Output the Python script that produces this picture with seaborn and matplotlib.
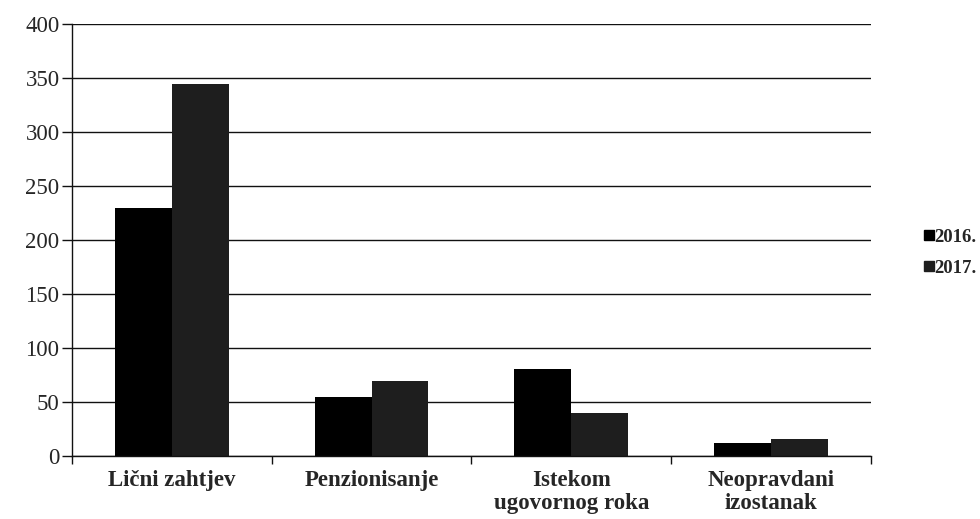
import pandas as pd
import matplotlib
matplotlib.use("Agg")
import matplotlib.pyplot as plt
from matplotlib.lines import Line2D
import seaborn as sns

# podaci sa grafikona
kategorije = ["Lični zahtjev", "Penzionisanje", "Istekom\nugovornog roka", "Neopravdani\nizostanak"]
vrijednosti_2016 = [230, 55, 81, 12]
vrijednosti_2017 = [344, 70, 40, 16]
godine = ["2016.", "2017."]
boje = {"2016.": "#000000", "2017.": "#1e1e1e"}

df = pd.DataFrame({
    "kategorija": kategorije * 2,
    "godina": [godine[0]] * 4 + [godine[1]] * 4,
    "broj": vrijednosti_2016 + vrijednosti_2017,
})

sns.set_style("white")
plt.rcParams["font.family"] = ["Liberation Serif", "DejaVu Serif"]

fig = plt.figure(figsize=(9.8, 5.19), dpi=100)
ax = fig.add_axes([0.0735, 0.121, 0.815, 0.833])

sns.barplot(data=df, x="kategorija", y="broj", hue="godina", palette=boje,
            width=0.57, linewidth=0, saturation=1, ax=ax, legend=False, errorbar=None)

ax.set_ylim(0, 400)
ax.set_xlim(-0.5, 3.5)
ax.set_yticks(range(0, 401, 50))
ax.yaxis.grid(True, color="#111111", linewidth=1.0)
ax.set_axisbelow(True)

for s in ["top", "right"]:
    ax.spines[s].set_visible(False)
for s in ["left", "bottom"]:
    ax.spines[s].set_color("#111111")
    ax.spines[s].set_linewidth(1.0)

ax.tick_params(axis="y", length=7, width=1, color="#111111", labelsize=16.5, pad=2, left=True)
ax.tick_params(axis="x", which="major", length=0, labelsize=16.5, pad=10)
ax.set_xticks([-0.5, 0.5, 1.5, 2.5, 3.5], minor=True)
ax.tick_params(axis="x", which="minor", length=6, width=1, color="#111111", bottom=True)
for t in ax.get_xticklabels():
    t.set_fontweight("bold")
    t.set_linespacing(1.12)
ax.set_xlabel("")
ax.set_ylabel("")

rucke = [Line2D([0], [0], marker="s", linestyle="", markersize=6.5,
                markerfacecolor=boje[g], markeredgecolor=boje[g]) for g in godine]
fig.legend(rucke, godine, loc="center left", bbox_to_anchor=(0.942, 0.513),
           frameon=False, handletextpad=0.0, handlelength=0.6, labelspacing=0.75,
           prop={"weight": "bold", "size": 13.5}, borderaxespad=0, borderpad=0)

fig.savefig("out.png", dpi=100)
